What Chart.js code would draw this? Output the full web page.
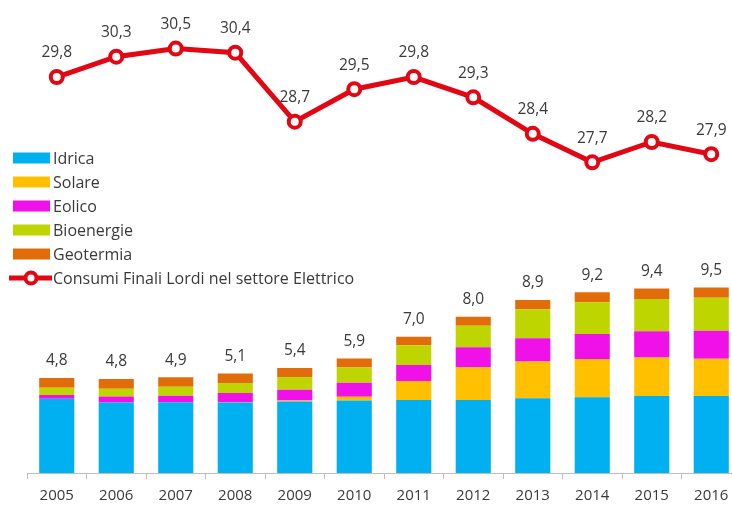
<!DOCTYPE html>
<html>
<head>
<meta charset="utf-8">
<script src="https://cdn.jsdelivr.net/npm/chart.js@4.4.1/dist/chart.umd.min.js"></script>
<style>
  html, body { margin: 0; padding: 0; background: #fff; overflow: hidden; }
  #wrap { position: absolute; left: 0; top: 0; width: 751px; height: 505px; }
  canvas { display: block; }
</style>
</head>
<body>
<div id="wrap"><canvas id="c"></canvas></div>
<script>
const years = ['2005','2006','2007','2008','2009','2010','2011','2012','2013','2014','2015','2016'];
const idrica     = [3.78, 3.59, 3.60, 3.59, 3.64, 3.69, 3.72, 3.72, 3.81, 3.86, 3.93, 3.93];
const solare     = [0.00, 0.00, 0.00, 0.01, 0.05, 0.20, 0.97, 1.67, 1.87, 1.95, 1.96, 1.89];
const eolico     = [0.20, 0.31, 0.34, 0.48, 0.55, 0.71, 0.82, 1.02, 1.19, 1.28, 1.33, 1.43];
const bioenergie = [0.36, 0.39, 0.46, 0.51, 0.65, 0.78, 1.00, 1.09, 1.48, 1.61, 1.65, 1.68];
const geotermia  = [0.50, 0.50, 0.48, 0.48, 0.46, 0.46, 0.44, 0.47, 0.47, 0.51, 0.53, 0.53];
const totali     = [4.8, 4.8, 4.9, 5.1, 5.4, 5.9, 7.0, 8.0, 8.9, 9.2, 9.4, 9.5];
const consumi    = [29.8, 30.3, 30.5, 30.4, 28.7, 29.5, 29.8, 29.3, 28.4, 27.7, 28.2, 27.9];

const FONT = '"Open Sans", "Liberation Sans", sans-serif';
const TXT = '#3a3a3a';
const RED = '#E30613';

const fmt = v => v.toFixed(1).replace('.', ',');

const labelsPlugin = {
  id: 'labelsPlugin',
  afterDatasetsDraw(chart) {
    const ctx = chart.ctx;
    const x = chart.scales.x, y = chart.scales.y, y2 = chart.scales.y2;
    ctx.save();
    ctx.fillStyle = TXT;
    ctx.font = '15.5px ' + FONT;
    ctx.textAlign = 'center';
    ctx.textBaseline = 'middle';
    years.forEach((yr, i) => {
      const sum = idrica[i] + solare[i] + eolico[i] + bioenergie[i] + geotermia[i];
      const px = x.getPixelForValue(i);
      ctx.fillText(fmt(totali[i]), px, y.getPixelForValue(sum) - 17);
      ctx.fillText(fmt(consumi[i]), px, y2.getPixelForValue(consumi[i]) - 24);
    });
    // legend
    const items = chart.data.datasets;
    ctx.textAlign = 'left';
    ctx.font = '16px ' + FONT;
    let rowY = 158;
    items.forEach(ds => {
      if (ds.type === 'line') {
        ctx.strokeStyle = RED;
        ctx.lineWidth = 5;
        ctx.beginPath(); ctx.moveTo(9, rowY); ctx.lineTo(52, rowY); ctx.stroke();
        ctx.fillStyle = '#fff';
        ctx.lineWidth = 4;
        ctx.beginPath(); ctx.arc(31, rowY, 5.5, 0, Math.PI * 2); ctx.fill(); ctx.stroke();
      } else {
        ctx.fillStyle = ds.backgroundColor;
        ctx.fillRect(13, rowY - 5.5, 37, 11);
      }
      ctx.fillStyle = TXT;
      ctx.fillText(ds.label, 53, rowY + 1);
      rowY += 24;
    });
    ctx.restore();
  }
};

const barDs = (label, data, color) => ({
  type: 'bar', label, data, backgroundColor: color, yAxisID: 'y', stack: 's',
  barPercentage: 0.59, categoryPercentage: 1.0, borderWidth: 0, order: 2
});

new Chart(document.getElementById('c'), {
  data: {
    labels: years,
    datasets: [
      barDs('Idrica', idrica, '#00B0F0'),
      barDs('Solare', solare, '#FFC000'),
      barDs('Eolico', eolico, '#F010E8'),
      barDs('Bioenergie', bioenergie, '#BFD500'),
      barDs('Geotermia', geotermia, '#E36C0A'),
      {
        type: 'line', label: 'Consumi Finali Lordi nel settore Elettrico', data: consumi,
        yAxisID: 'y2', borderColor: RED, borderWidth: 5, backgroundColor: '#fff',
        pointRadius: 6, pointBorderWidth: 4, pointBackgroundColor: '#fff', pointBorderColor: RED,
        tension: 0, order: 1
      }
    ]
  },
  options: {
    responsive: true,
    maintainAspectRatio: false,
    animation: false,
    devicePixelRatio: 1,
    layout: { padding: { left: 27, right: 1, top: 10, bottom: 0 } },
    plugins: { legend: { display: false }, tooltip: { enabled: false } },
    scales: {
      x: {
        stacked: true,
        grid: { display: true, drawOnChartArea: false, drawTicks: true, tickLength: 6, color: '#BFBFBF', offset: true },
        border: { display: true, color: '#BFBFBF', width: 1 },
        ticks: { color: TXT, font: { family: FONT, size: 15 }, padding: 8 },
        afterFit: s => { s.height = 32; }
      },
      y: { stacked: true, display: false, min: 0, max: 23.6 },
      y2: { stacked: false, display: false, min: 20.05, max: 31.45 }
    }
  },
  plugins: [labelsPlugin]
});
</script>
</body>
</html>
